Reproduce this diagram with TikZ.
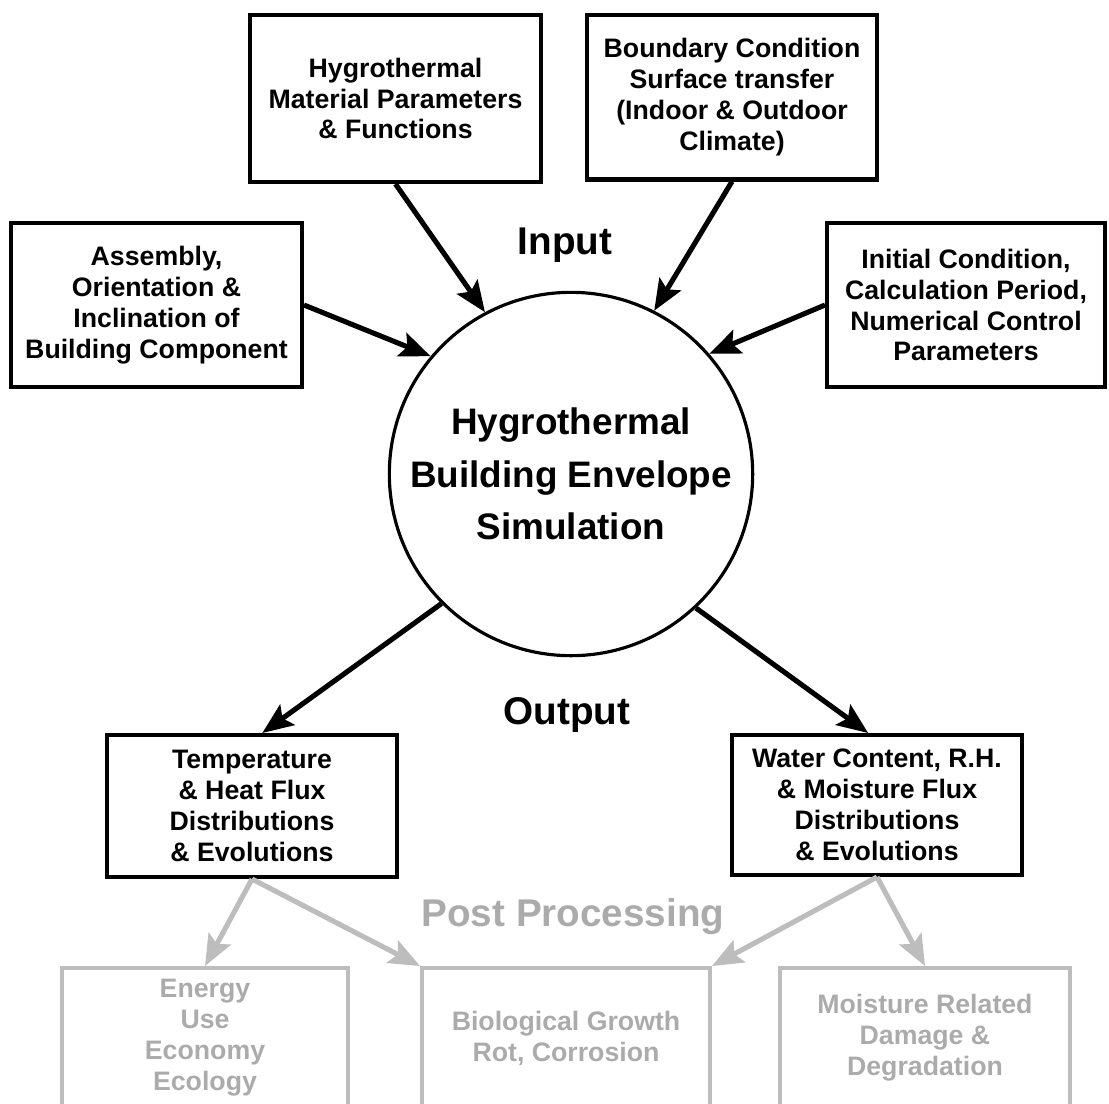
\documentclass[tikz,border=0pt]{standalone}
\usepackage{fontspec}
\setmainfont{Liberation Sans}
\usetikzlibrary{arrows.meta}
\definecolor{postline}{HTML}{BDBDBD}
\definecolor{posttext}{HTML}{ABABAB}
\begin{document}
\begin{tikzpicture}[x=0.02cm, y=-0.02cm, box/.style={rectangle, draw, line width=2.3pt, align=center, font=\fontsize{15.2}{17.6}\selectfont\bfseries, minimum width=5.8cm}, post/.style={box, draw=postline, text=posttext, minimum height=2.8cm}, sim/.style={circle, draw, line width=1.8pt, align=center, minimum size=6.92cm, font=\fontsize{21}{30}\selectfont\bfseries}, lbl/.style={font=\fontsize{22}{26}\selectfont\bfseries}, >={Stealth[length=6.2mm, width=5mm, inset=1.2mm]}, arr/.style={->, line width=2.9pt}, parr/.style={arr, draw=postline, fill=postline}]
\clip (0,0) rectangle (1109,1103);
\node[box, minimum width=5.82cm, minimum height=3.34cm] (mat) at (395.5,98.5) {Hygrothermal\\Material Parameters\\\& Functions};
\node[box, minimum height=3.3cm] (bnd) at (732,97) {Boundary Condition\\Surface transfer\\(Indoor \& Outdoor\\Climate)};
\node[box, minimum width=5.82cm, minimum height=3.28cm] (asm) at (156.5,305) {Assembly,\\Orientation \&\\Inclination of\\Building Component};
\node[box, minimum width=5.56cm, minimum height=3.28cm] (ini) at (966,305) {Initial Condition,\\Calculation Period,\\Numerical Control\\Parameters};
\node[sim] (sim) at (571,474) {Hygrothermal\\Building Envelope\\Simulation};
\node[lbl] (in) at (565,245) {Input};
\node[lbl] (out) at (567,715) {Output};
\node[box, minimum height=2.84cm] (temp) at (252,806) {Temperature\\\& Heat Flux\\Distributions\\\& Evolutions};
\node[box, minimum height=2.8cm] (water) at (877,805) {Water Content, R.H.\\\& Moisture Flux\\Distributions\\\& Evolutions};
\node[lbl, text=posttext] (pp) at (573,917) {Post Processing};
\node[post, minimum width=5.72cm] (energy) at (205,1038) {Energy\\Use\\Economy\\Ecology};
\node[post, minimum width=5.76cm] (bio) at (566,1038) {Biological Growth\\Rot, Corrosion};
\node[post] (moist) at (925,1038) {Moisture Related\\Damage \&\\Degradation};
\draw[arr] (mat.south) -- (sim.118); \draw[arr] (bnd.south) -- (sim.63); \draw[arr] (asm.east) -- (sim.140); \draw[arr] (ini.west) -- (sim.41);
\draw[arr] (sim.225) -- (temp.82); \draw[arr] (sim.313) -- (water.97);
\draw[parr] (temp.south) -- (energy.north); \draw[parr] (temp.south) -- (bio.north west); \draw[parr] (water.south) -- (bio.north east); \draw[parr] (water.south) -- (moist.north);
\end{tikzpicture}
\end{document}
